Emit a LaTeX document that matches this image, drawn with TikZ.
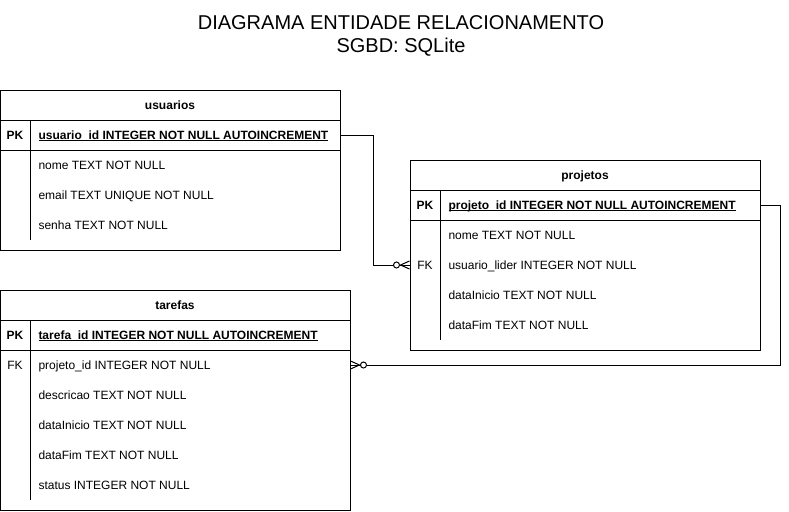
\documentclass[tikz,border=0pt]{standalone}
\usepackage{fontspec}
\setmainfont{Liberation Sans}
\newcommand\pkul[1]{\setbox0\hbox{#1}\rlap{\rule[-1.8pt]{\wd0}{0.8pt}}\box0}
\begin{document}
\begin{tikzpicture}[x=1pt,y=-1pt,line width=1pt,
  tbl/.style={draw,anchor=north west,inner sep=0pt},
  row/.style={anchor=base west,inner sep=0pt,yshift=-4.3pt,font=\fontsize{12}{14}\selectfont},
  keylbl/.style={anchor=base,inner sep=0pt,yshift=-4.3pt,font=\fontsize{12}{14}\selectfont\bfseries},
  fklbl/.style={anchor=base,inner sep=0pt,yshift=-4.3pt,font=\fontsize{12}{14}\selectfont},
  hdr/.style={anchor=base,inner sep=0pt,yshift=-4.3pt,font=\fontsize{12}{14}\selectfont\bfseries},
  pkrow/.style={anchor=base west,inner sep=0pt,yshift=-4.3pt,font=\fontsize{12}{14}\selectfont\bfseries},
  fullrow/.style={inner sep=0pt,minimum height=30pt},
  ttl/.style={inner sep=0pt,font=\fontsize{20}{24}\selectfont}]
\useasboundingbox (0,0) rectangle (789,511);

% title
\node[ttl] (t1) at (401,23) {DIAGRAMA ENTIDADE RELACIONAMENTO};
\node[ttl] (t2) at (401,47) {SGBD: SQLite};

% ---------- usuarios ----------
\node[tbl,minimum width=340pt,minimum height=160pt] (usu) at (0,90) {};
\node[hdr] (usuh) at (170,105) {usuarios};
\node[fullrow,minimum width=340pt] (usupk) at (170,135) {};
\draw (0,120) -- (340,120);
\draw (0,150) -- (340,150);
\draw (30,120) -- (30,240);
\node[keylbl] (usupkl) at (15,135) {PK};
\node[pkrow] (usu0) at (38,135) {\pkul{usuario\_id INTEGER NOT NULL AUTOINCREMENT}};
\node[row] (usu1) at (38,165) {nome TEXT NOT NULL};
\node[row] (usu2) at (38,195) {email TEXT UNIQUE NOT NULL};
\node[row] (usu3) at (38,225) {senha TEXT NOT NULL};

% ---------- projetos ----------
\node[tbl,minimum width=350pt,minimum height=190pt] (pro) at (410,160) {};
\node[hdr] (proh) at (585,175) {projetos};
\node[fullrow,minimum width=350pt] (propk) at (585,205) {};
\node[fullrow,minimum width=350pt] (profk) at (585,265) {};
\draw (410,190) -- (760,190);
\draw (410,220) -- (760,220);
\draw (440,190) -- (440,340);
\node[keylbl] (propkl) at (425,205) {PK};
\node[pkrow] (pro0) at (448,205) {\pkul{projeto\_id INTEGER NOT NULL AUTOINCREMENT}};
\node[row] (pro1) at (448,235) {nome TEXT NOT NULL};
\node[fklbl] (profkl) at (425,265) {FK};
\node[row] (pro2) at (448,265) {usuario\_lider INTEGER NOT NULL};
\node[row] (pro3) at (448,295) {dataInicio TEXT NOT NULL};
\node[row] (pro4) at (448,325) {dataFim TEXT NOT NULL};

% ---------- tarefas ----------
\node[tbl,minimum width=350pt,minimum height=220pt] (tar) at (0,290) {};
\node[hdr] (tarh) at (175,305) {tarefas};
\node[fullrow,minimum width=350pt] (tarfk) at (175,365) {};
\draw (0,320) -- (350,320);
\draw (0,350) -- (350,350);
\draw (30,320) -- (30,500);
\node[keylbl] (tarpkl) at (15,335) {PK};
\node[pkrow] (tar0) at (38,335) {\pkul{tarefa\_id INTEGER NOT NULL AUTOINCREMENT}};
\node[fklbl] (tarfkl) at (15,365) {FK};
\node[row] (tar1) at (38,365) {projeto\_id INTEGER NOT NULL};
\node[row] (tar2) at (38,395) {descricao TEXT NOT NULL};
\node[row] (tar3) at (38,425) {dataInicio TEXT NOT NULL};
\node[row] (tar4) at (38,455) {dataFim TEXT NOT NULL};
\node[row] (tar5) at (38,485) {status INTEGER NOT NULL};

% ---------- connectors ----------
% usuarios (one) -> projetos (zero or many)
\coordinate (c1a) at ([shift={(33,0)}]usupk.east);
\coordinate (c1circ) at ([shift={(-13,0)}]profk.west);
\draw (usupk.east) -- (c1a) |- ([shift={(-16,0)}]profk.west);
\draw (c1circ) circle (3pt);
\draw ([shift={(-10,0)}]profk.west) -- (profk.west);
\draw ([shift={(-9,0)}]profk.west) -- ([shift={(0,-4)}]profk.west);
\draw ([shift={(-9,0)}]profk.west) -- ([shift={(0,4)}]profk.west);

% projetos (one) -> tarefas (zero or many)
\coordinate (c2a) at ([shift={(20,0)}]propk.east);
\coordinate (c2circ) at ([shift={(13,0)}]tarfk.east);
\draw (propk.east) -- (c2a) |- ([shift={(16,0)}]tarfk.east);
\draw (c2circ) circle (3pt);
\draw ([shift={(10,0)}]tarfk.east) -- (tarfk.east);
\draw ([shift={(9,0)}]tarfk.east) -- ([shift={(0,-4)}]tarfk.east);
\draw ([shift={(9,0)}]tarfk.east) -- ([shift={(0,4)}]tarfk.east);
\end{tikzpicture}
\end{document}
